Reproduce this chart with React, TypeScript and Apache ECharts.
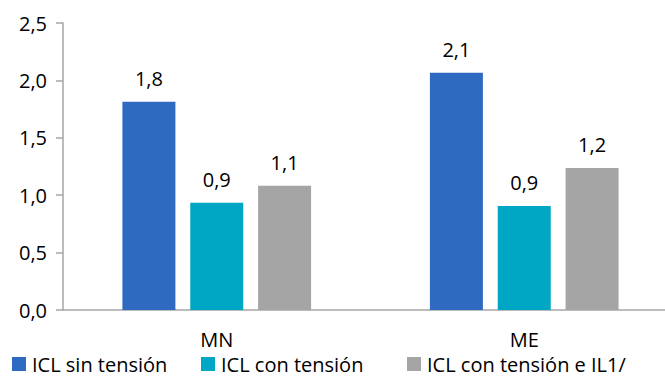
import React, { useEffect, useRef } from "react";
import * as echarts from "echarts";

const categories = ["MN", "ME"];
const seriesNames = ["ICL sin tensión", "ICL con tensión", "ICL con tensión e IL1/"];
const sinTension = [1.814, 2.067];
const conTension = [0.935, 0.906];
const conTensionIL1 = [1.083, 1.237];
const colors = ["#2E6ABF", "#00A7C4", "#A5A5A5"];
const legendLefts = [12, 201, 407];

const FONT = "'Open Sans', 'Noto Sans', sans-serif";
const FS = 20;

export default function App() {
  const ref = useRef<HTMLDivElement>(null);
  useEffect(() => {
    if (!ref.current) return;
    const chart = echarts.init(ref.current, undefined, { renderer: "svg" });
    const fmt = (v: number) => v.toFixed(1).replace(".", ",");
    const values = [sinTension, conTension, conTensionIL1];
    chart.setOption({
      animation: false,
      textStyle: { fontFamily: FONT },
      grid: { left: 63, top: 23, width: 615, height: 287, containLabel: false },
      legend: seriesNames.map((name, i) => ({
        left: legendLefts[i],
        top: 354,
        itemWidth: 14,
        itemHeight: 14,
        icon: "rect",
        padding: 0,
        textStyle: { fontFamily: FONT, fontSize: FS, color: "#000", padding: [0, 0, 0, 1] },
        data: [name],
      })),
      xAxis: {
        type: "category",
        data: categories,
        axisLine: { lineStyle: { color: "#A6A6A6", width: 1.5 } },
        axisTick: { show: false },
        axisLabel: { fontFamily: FONT, fontSize: FS, color: "#000", margin: 19 },
      },
      yAxis: {
        type: "value",
        min: 0,
        max: 2.5,
        interval: 0.5,
        axisLine: { show: true, lineStyle: { color: "#A6A6A6", width: 1.5 } },
        axisTick: { show: true, length: 7, lineStyle: { color: "#A6A6A6", width: 1.5 } },
        splitLine: { show: false },
        axisLabel: {
          fontFamily: FONT,
          fontSize: FS,
          color: "#000",
          margin: 16,
          formatter: (v: number) => fmt(v),
        },
      },
      series: seriesNames.map((name, i) => ({
        name,
        type: "bar",
        data: values[i],
        barWidth: 53,
        barGap: "28%",
        itemStyle: { color: colors[i] },
        label: {
          show: true,
          position: "top",
          distance: 13,
          fontFamily: FONT,
          fontSize: FS,
          color: "#000",
          formatter: (p: any) => fmt(p.value),
        },
      })),
    });
    return () => chart.dispose();
  }, []);
  return (
    <div
      ref={ref}
      style={{ position: "fixed", left: 0, top: 0, width: 680, height: 377, background: "#fff" }}
    />
  );
}
